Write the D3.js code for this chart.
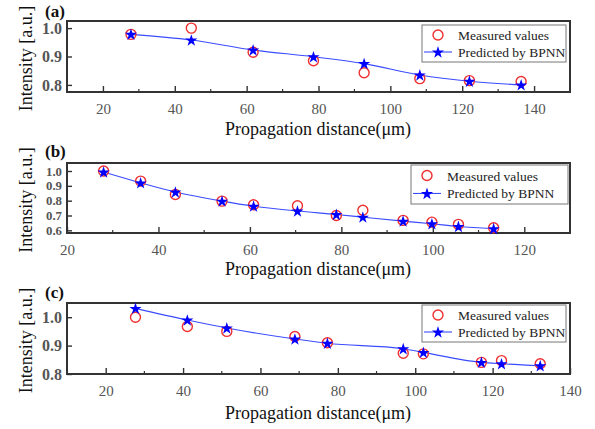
<!DOCTYPE html>
<html><head><meta charset="utf-8">
<script src="https://cdn.jsdelivr.net/npm/d3@7/dist/d3.min.js"></script>
<style>body{margin:0;background:#fff}svg{display:block}</style>
</head><body>
<script>
// Panel (a)
const distA = [27.8, 44.6, 61.8, 78.6, 92.7, 108.2, 122.0, 136.4];
const measuredA = [0.978, 1.0, 0.915, 0.885, 0.843, 0.822, 0.815, 0.812];
const predictedA = [0.978, 0.958, 0.923, 0.899, 0.875, 0.835, 0.813, 0.800];
const xTicksA = [20, 40, 60, 80, 100, 120, 140];
const yTicksA = [0.8, 0.9, 1.0];
// Panel (b)
const distB = [28.0, 36.1, 43.7, 53.9, 60.8, 70.4, 78.9, 84.7, 93.5, 99.8, 105.6, 113.3];
const measuredB = [1.0, 0.932, 0.842, 0.797, 0.772, 0.766, 0.700, 0.735, 0.667, 0.655, 0.640, 0.617];
const predictedB = [0.993, 0.920, 0.858, 0.797, 0.763, 0.730, 0.707, 0.689, 0.662, 0.644, 0.626, 0.611];
const xTicksB = [20, 40, 60, 80, 100, 120];
const yTicksB = [0.6, 0.7, 0.8, 0.9, 1.0];
// Panel (c)
const distC = [27.7, 41.1, 51.3, 68.9, 77.3, 96.9, 102.1, 117.1, 122.3, 132.3];
const measuredC = [1.0, 0.967, 0.950, 0.932, 0.910, 0.873, 0.871, 0.841, 0.847, 0.836];
const predictedC = [1.031, 0.990, 0.962, 0.923, 0.908, 0.889, 0.876, 0.841, 0.836, 0.829];
const xTicksC = [20, 40, 60, 80, 100, 120, 140];
const yTicksC = [0.8, 0.9, 1.0];

const FONT = "Liberation Serif";
const W = 595, H = 429;
const svg = d3.select("body").append("svg").attr("width", W).attr("height", H);

const panels = [
  {label: "(a)", x: distA, m: measuredA, p: predictedA, xt: xTicksA, yt: yTicksA, ytSize: 16,
   xd: [10, 150], yd: [0.775, 1.025], top: 21, bottom: 92, left: 67, right: 570,
   xtitleY: 135, labelY: 17, legend: {x0: 422, x1: 566, y0: 25, y1: 62}},
  {label: "(b)", x: distB, m: measuredB, p: predictedB, xt: xTicksB, yt: yTicksB, ytSize: 12.8,
   xd: [20, 130], yd: [0.582, 1.054], top: 163, bottom: 233, left: 67, right: 570,
   xtitleY: 275, labelY: 157, legend: {x0: 411, x1: 568, y0: 165, y1: 204}},
  {label: "(c)", x: distC, m: measuredC, p: predictedC, xt: xTicksC, yt: yTicksC, ytSize: 16,
   xd: [10, 140], yd: [0.8, 1.05], top: 303, bottom: 374, left: 67, right: 570,
   xtitleY: 419, labelY: 298, legend: {x0: 422, x1: 566, y0: 305, y1: 342}}
];

const fmt = d3.format(".1f");
const star = d3.symbol().type(d3.symbolStar).size(46);

panels.forEach(P => {
  const g = svg.append("g");
  const x = d3.scaleLinear().domain(P.xd).range([P.left, P.right]);
  const y = d3.scaleLinear().domain(P.yd).range([P.bottom, P.top]);

  const minor = d3.range(P.xd[0], P.xd[1] + 0.01, 10).filter(v => !P.xt.includes(v) && v > P.xd[0] && v < P.xd[1]);
  g.selectAll(".mx").data(minor).join("line")
    .attr("x1", d => x(d)).attr("x2", d => x(d))
    .attr("y1", P.bottom).attr("y2", P.bottom - 3)
    .attr("stroke", "#333").attr("stroke-width", 1.2);

  const xa = g.append("g").attr("transform", `translate(0,${P.bottom})`)
    .call(d3.axisBottom(x).tickValues(P.xt).tickSize(-6).tickPadding(11).tickFormat(d3.format("d")));
  xa.attr("font-family", FONT);
  xa.select(".domain").remove();
  xa.selectAll("line").attr("stroke", "#333").attr("stroke-width", 1.4);
  xa.selectAll("text").attr("font-size", 15).attr("fill", "#555").attr("font-family", FONT);

  const ya = g.append("g").attr("transform", `translate(${P.left},0)`)
    .call(d3.axisLeft(y).tickValues(P.yt).tickSize(-5).tickPadding(5).tickFormat(fmt));
  ya.attr("font-family", FONT);
  ya.select(".domain").remove();
  ya.selectAll("line").attr("stroke", "#333").attr("stroke-width", 1.4);
  ya.selectAll("text").attr("font-size", P.ytSize).attr("fill", "#555").attr("font-weight", "bold").attr("font-family", FONT);

  g.append("rect").attr("x", P.left).attr("y", P.top)
    .attr("width", P.right - P.left).attr("height", P.bottom - P.top)
    .attr("fill", "none").attr("stroke", "#333").attr("stroke-width", 2);

  const line = d3.line().x((d, i) => x(P.x[i])).y(d => y(d)).curve(d3.curveMonotoneX);
  g.append("path").datum(P.p).attr("d", line)
    .attr("fill", "none").attr("stroke", "#3a4cff").attr("stroke-width", 1.1);

  g.selectAll(".m").data(P.m).join("circle")
    .attr("cx", (d, i) => x(P.x[i])).attr("cy", d => y(d)).attr("r", 5)
    .attr("fill", "none").attr("stroke", "#f03030").attr("stroke-width", 1.4);

  g.selectAll(".s").data(P.p).join("path")
    .attr("d", star)
    .attr("transform", (d, i) => `translate(${x(P.x[i])},${y(d) + 0.5})`)
    .attr("fill", "#0000ff");

  const L = P.legend;
  g.append("rect").attr("x", L.x0).attr("y", L.y0).attr("width", L.x1 - L.x0).attr("height", L.y1 - L.y0)
    .attr("fill", "#fff").attr("stroke", "#777").attr("stroke-width", 1);
  const r1 = L.y0 + (L.y1 - L.y0) * 0.27, r2 = L.y0 + (L.y1 - L.y0) * 0.73;
  const sx = L.x0 + 16;
  g.append("circle").attr("cx", sx).attr("cy", r1).attr("r", 5)
    .attr("fill", "none").attr("stroke", "#f03030").attr("stroke-width", 1.4);
  g.append("line").attr("x1", L.x0 + 2).attr("x2", L.x0 + 30).attr("y1", r2).attr("y2", r2)
    .attr("stroke", "#3a4cff").attr("stroke-width", 1.1);
  g.append("path").attr("d", star).attr("transform", `translate(${sx},${r2 + 0.5})`).attr("fill", "#0000ff");
  g.append("text").attr("x", L.x0 + 36).attr("y", r1 + 5).attr("font-size", 13.5).attr("font-family", FONT)
    .attr("fill", "#222").text("Measured values");
  g.append("text").attr("x", L.x0 + 36).attr("y", r2 + 5).attr("font-size", 13.5).attr("font-family", FONT)
    .attr("fill", "#222").text("Predicted by BPNN");

  g.append("text").attr("x", 318).attr("y", P.xtitleY).attr("text-anchor", "middle")
    .attr("font-size", 18).attr("font-family", FONT).attr("fill", "#111").text("Propagation distance(μm)");
  const cy = (P.top + P.bottom) / 2 + 2;
  g.append("text").attr("transform", `translate(32,${cy}) rotate(-90)`).attr("text-anchor", "middle")
    .attr("font-size", 18).attr("font-family", FONT).attr("fill", "#111").text("Intensity [a.u.]");
  g.append("text").attr("x", 45).attr("y", P.labelY).attr("font-size", 17).attr("font-weight", "bold")
    .attr("font-family", FONT).attr("fill", "#111").text(P.label);
});
</script>
</body></html>
